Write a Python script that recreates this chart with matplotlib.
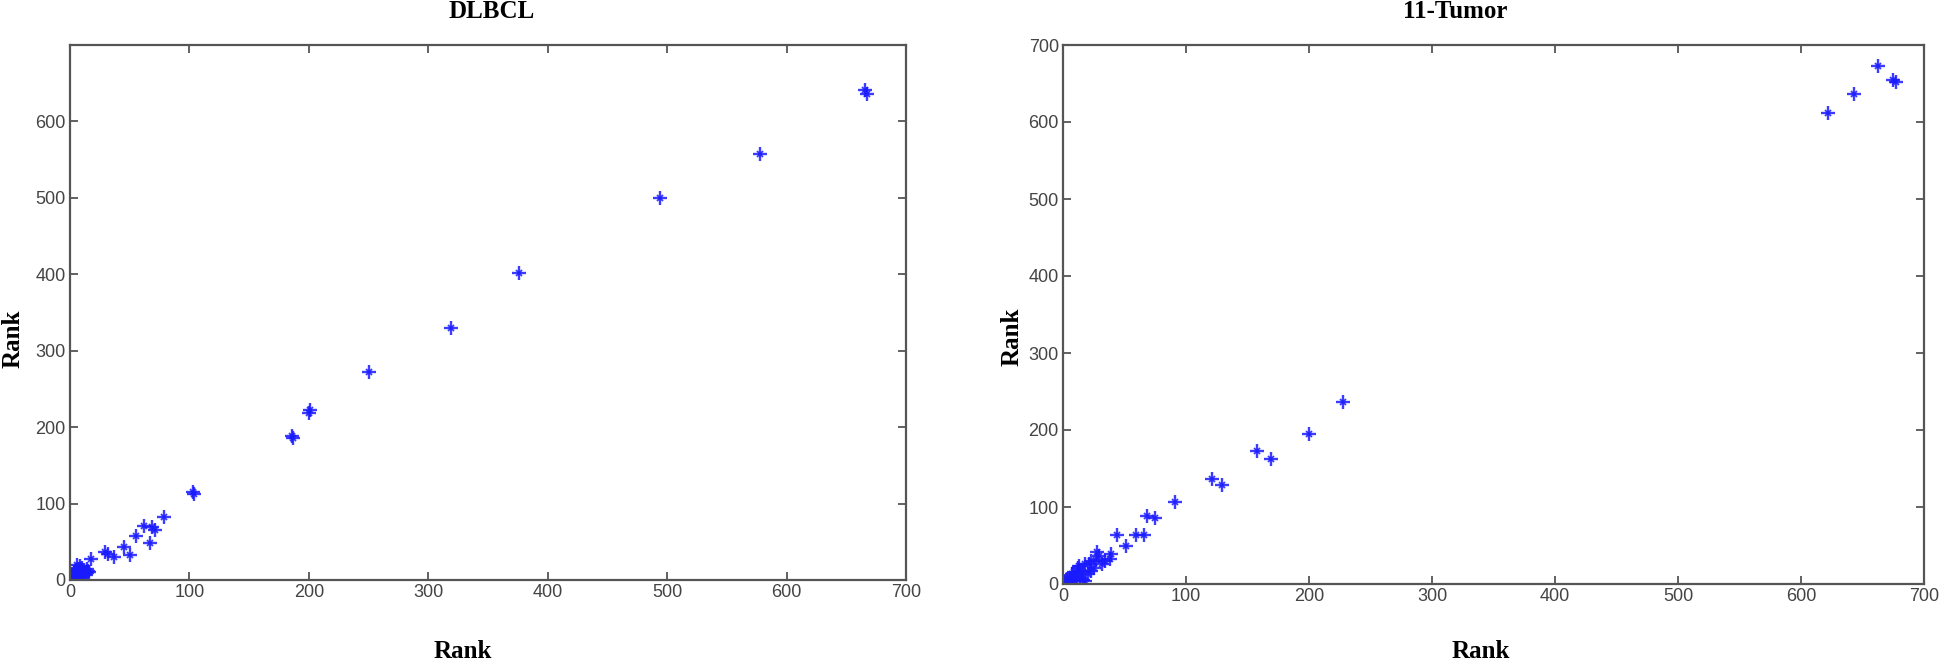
import matplotlib
matplotlib.use("Agg")
import matplotlib.pyplot as plt

# DLBCL panel: rank vs rank
dlbcl_x = [666, 667, 578, 494, 376, 319, 250, 200, 201, 186, 187, 103, 104, 79,
           62, 69, 71, 67, 55, 45, 50, 37, 32, 29, 18,
           1, 2, 3, 1, 2, 4, 3, 5, 5, 6, 7, 6, 8, 8, 9, 10, 10, 11, 12, 12, 13,
           14, 15, 9, 7, 4, 2, 11, 13, 6, 8, 10, 14, 16, 3, 5, 8, 6]
dlbcl_y = [641, 636, 558, 500, 402, 330, 272, 218, 223, 189, 186, 115, 112, 83,
           71, 70, 65, 49, 57, 43, 33, 30, 34, 37, 27,
           1, 2, 1, 3, 5, 3, 6, 4, 7, 5, 8, 10, 6, 11, 9, 7, 12, 10, 8, 13, 11,
           9, 12, 14, 15, 9, 8, 5, 6, 2, 3, 16, 14, 10, 11, 13, 18, 20]

# 11-Tumor panel
tumor_x = [663, 675, 677, 643, 622, 228, 200, 158, 169, 121, 129, 91, 68, 75,
           44, 59, 66, 51, 28, 29, 39, 38, 34, 27, 23, 18, 32, 21, 13, 12, 25,
           14, 23, 16, 20, 7, 9, 10, 6, 14, 6, 3, 3, 1, 9, 18, 16, 2, 4, 5, 8, 11]
tumor_y = [673, 655, 652, 636, 612, 236, 195, 173, 162, 137, 128, 106, 88, 86,
           64, 64, 63, 50, 41, 37, 39, 33, 30, 31, 30, 26, 26, 26, 24, 21, 21,
           17, 17, 15, 13, 13, 15, 9, 8, 8, 6, 6, 2, 2, 4, 4, 5, 4, 1, 3, 7, 11]

W, H = 1944, 667
fig = plt.figure(figsize=(W / 100, H / 100), dpi=100)

serif = ['Liberation Serif', 'DejaVu Serif']
tick_font = ['Liberation Sans', 'DejaVu Sans']

def frac(x0, y0, x1, y1):
    return [x0 / W, 1 - y1 / H, (x1 - x0) / W, (y1 - y0) / H]

ax1 = fig.add_axes(frac(70, 45, 906, 580))
ax2 = fig.add_axes(frac(1063, 45, 1924, 584))

for ax, xs, ys, yt in [(ax1, dlbcl_x, dlbcl_y, range(0, 601, 100)),
                       (ax2, tumor_x, tumor_y, range(0, 701, 100))]:
    ax.plot(xs, ys, linestyle='none', marker='+', ms=10, mew=1.7,
            color='#1a1aff', alpha=0.85)
    ax.plot(xs, ys, linestyle='none', marker='x', ms=5, mew=1.3,
            color='#1a1aff', alpha=0.85)
    ax.set_xlim(0, 700)
    ax.set_ylim(0, 700)
    ax.set_xticks(range(0, 701, 100))
    ax.set_yticks(list(yt))
    for s in ax.spines.values():
        s.set_color('#555555')
        s.set_linewidth(1.6)
    ax.tick_params(direction='in', length=6, width=1.3, color='#555555',
                   top=True, right=True, labelsize=13, labelcolor='#444444', pad=3)
    for lab in ax.get_xticklabels() + ax.get_yticklabels():
        lab.set_family(tick_font)

# titles and axis labels
fig.text(492 / W, 1 - 12 / H, 'DLBCL', ha='center', va='center',
         family=serif, fontweight='bold', fontsize=18)
fig.text(1455 / W, 1 - 12 / H, '11-Tumor', ha='center', va='center',
         family=serif, fontweight='bold', fontsize=18)
fig.text(463 / W, 1 - 652 / H, 'Rank', ha='center', va='center',
         family=serif, fontweight='bold', fontsize=18)
fig.text(1481 / W, 1 - 652 / H, 'Rank', ha='center', va='center',
         family=serif, fontweight='bold', fontsize=18)
fig.text(13 / W, 1 - 339 / H, 'Rank', ha='center', va='center', rotation=90,
         family=serif, fontweight='bold', fontsize=18)
fig.text(1012 / W, 1 - 337 / H, 'Rank', ha='center', va='center', rotation=90,
         family=serif, fontweight='bold', fontsize=18)

fig.savefig('out.png', dpi=100)
